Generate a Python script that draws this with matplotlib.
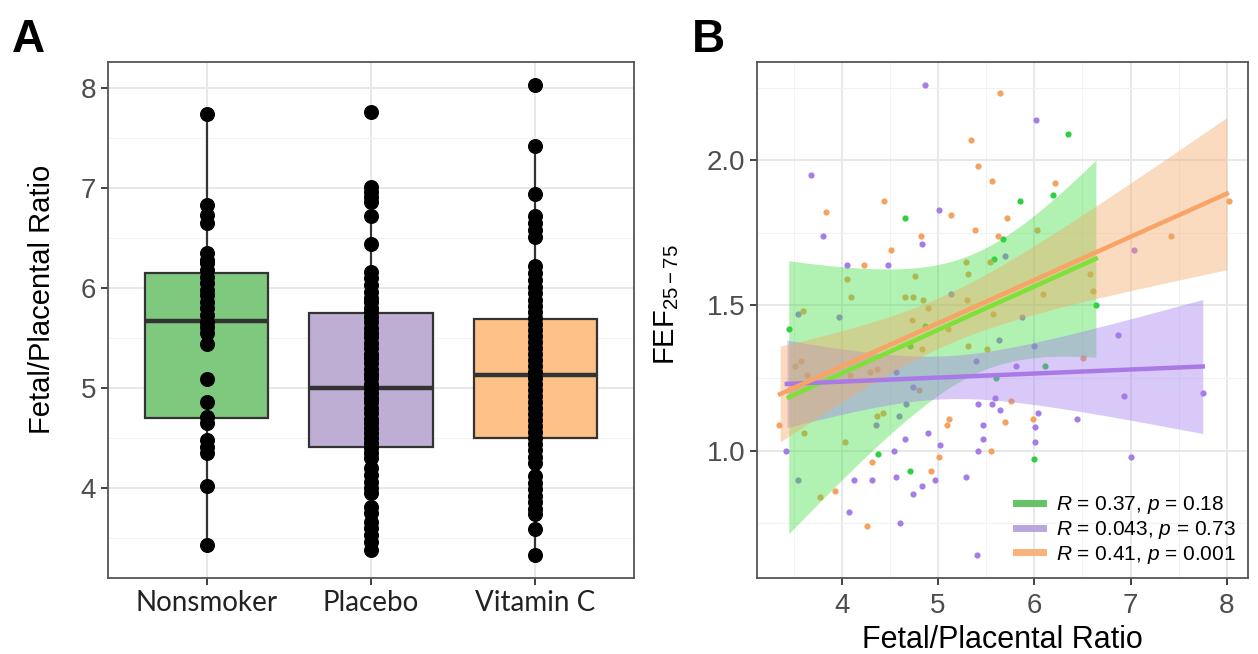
import numpy as np
import matplotlib
matplotlib.use("Agg")
import matplotlib.pyplot as plt
from matplotlib.lines import Line2D

plt.rcParams['font.family'] = ['Liberation Sans', 'DejaVu Sans']
plt.rcParams['mathtext.fontset'] = 'custom'
plt.rcParams['mathtext.rm'] = 'Liberation Sans'
plt.rcParams['mathtext.it'] = 'Liberation Sans:italic'

# ---- panel A data ----
groups = ['Nonsmoker', 'Placebo', 'Vitamin C']
box_fill = ['#7fc97f', '#beaed4', '#fdc086']
# box stats: q1, median, q3, lower whisker, upper whisker
box_q1 = [4.70, 4.41, 4.50]
box_med = [5.67, 5.00, 5.13]
box_q3 = [6.15, 5.75, 5.69]
box_lo = [3.43, 3.38, 3.33]
box_hi = [7.74, 7.01, 7.42]

nonsmoker = [7.74, 6.83, 6.73, 6.65, 6.35, 6.28, 6.25, 6.18, 6.11, 6.05, 5.98,
             5.93, 5.86, 5.80, 5.73, 5.66, 5.61, 5.55, 5.44, 5.09, 4.86, 4.71,
             4.65, 4.48, 4.41, 4.35, 4.02, 3.43]
placebo = [7.76, 7.01, 6.96, 6.91, 6.86, 6.72, 6.44, 6.16, 6.10, 6.03, 5.96,
           5.90, 5.86, 5.80, 5.76, 5.71, 5.66, 5.60, 5.55, 5.51, 5.45, 5.40,
           5.34, 5.30, 5.25, 5.19, 5.14, 5.10, 5.04, 5.00, 4.95, 4.90, 4.86,
           4.80, 4.75, 4.69, 4.65, 4.60, 4.55, 4.50, 4.45, 4.40, 4.35, 4.30,
           4.20, 4.13, 4.06, 4.00, 3.95, 3.81, 3.75, 3.66, 3.60, 3.53, 3.46,
           3.38]
vitamin_c = [8.03, 7.42, 6.94, 6.72, 6.65, 6.58, 6.51, 6.22, 6.15, 6.08, 6.01,
             5.95, 5.88, 5.82, 5.76, 5.70, 5.64, 5.58, 5.52, 5.46, 5.40, 5.34,
             5.28, 5.22, 5.16, 5.10, 5.04, 4.98, 4.92, 4.86, 4.80, 4.74, 4.68,
             4.62, 4.56, 4.50, 4.44, 4.38, 4.31, 4.25, 4.12, 4.05, 3.99, 3.92,
             3.86, 3.79, 3.74, 3.59, 3.33]
points_a = [nonsmoker, placebo, vitamin_c]

# ---- panel B data ----
green_x = [6.35, 6.19, 5.85, 4.66, 5.68, 5.58, 3.45, 6.64, 6.11, 5.60, 4.38,
           4.71, 6.00, 4.71, 4.86]
green_y = [2.09, 1.88, 1.86, 1.80, 1.73, 1.66, 1.42, 1.50, 1.29, 1.25, 0.99,
           0.93, 0.97, 1.36, 1.43]

purple_x = [4.87, 6.02, 3.68, 3.81, 5.01, 4.83, 4.06, 4.48, 6.87, 6.00, 5.39,
            5.81, 4.56, 4.74, 6.93, 7.75, 5.42, 5.56, 5.59, 5.64, 6.04, 6.44,
            5.47, 6.01, 5.47, 6.01, 4.90, 4.66, 5.02, 4.54, 5.42, 3.42, 7.00,
            4.13, 4.31, 4.56, 4.83, 4.97, 5.29, 4.74, 4.08, 4.61, 5.40, 7.04,
            5.70, 3.55, 3.97, 5.13, 5.87, 5.63, 4.36, 4.59, 4.67, 3.55]
purple_y = [2.26, 2.14, 1.95, 1.74, 1.83, 1.71, 1.64, 1.64, 1.40, 1.36, 1.31,
            1.29, 1.27, 1.22, 1.19, 1.20, 1.16, 1.16, 1.18, 1.14, 1.13, 1.11,
            1.09, 1.08, 1.04, 1.03, 1.06, 1.04, 1.02, 1.00, 1.00, 1.00, 0.98,
            0.90, 0.90, 0.91, 0.88, 0.90, 0.91, 0.85, 0.79, 0.75, 0.64, 1.69,
            1.67, 1.47, 1.46, 1.54, 1.46, 1.38, 1.09, 1.12, 1.16, 0.90]

orange_x = [5.64, 5.34, 5.42, 5.56, 6.22, 4.44, 3.84, 5.13, 5.72, 5.38, 4.82,
            5.62, 6.03, 8.02, 7.42, 4.51, 4.23, 5.29, 5.54, 4.05, 5.31, 4.76,
            6.58, 6.61, 4.10, 4.66, 4.74, 4.84, 5.30, 6.09, 3.60, 4.90, 4.73,
            5.57, 5.10, 5.31, 5.51, 4.83, 6.51, 3.51, 3.58, 3.64, 4.09, 4.29,
            4.37, 4.80, 5.76, 3.35, 4.37, 4.43, 5.11, 5.09, 5.70, 5.99, 3.61,
            4.03, 5.55, 5.01, 4.31, 4.93, 3.77, 3.93, 4.26]
orange_y = [2.23, 2.07, 1.98, 1.93, 1.92, 1.86, 1.82, 1.81, 1.80, 1.76, 1.74,
            1.74, 1.76, 1.86, 1.74, 1.69, 1.64, 1.65, 1.65, 1.59, 1.61, 1.60,
            1.61, 1.55, 1.53, 1.53, 1.53, 1.52, 1.52, 1.54, 1.48, 1.49, 1.45,
            1.47, 1.42, 1.36, 1.35, 1.35, 1.32, 1.29, 1.31, 1.26, 1.26, 1.27,
            1.28, 1.21, 1.17, 1.09, 1.12, 1.13, 1.11, 1.09, 1.10, 1.11, 1.06,
            1.03, 1.00, 0.98, 0.96, 0.93, 0.84, 0.86, 0.74]

# fitted lines (start/end) and CI band shape
fit_x0 = [3.45, 3.43, 3.36]
fit_x1 = [6.64, 7.75, 8.00]
fit_y0 = [1.184, 1.230, 1.195]
fit_y1 = [1.661, 1.290, 1.885]
band_xm = [5.40, 5.05, 5.04]
band_h0 = [0.208, 0.074, 0.087]
band_k = [0.216, 0.081, 0.0835]

legend_labels = [r'$\it{R}$ = 0.37, $\it{p}$ = 0.18',
                 r'$\it{R}$ = 0.043, $\it{p}$ = 0.73',
                 r'$\it{R}$ = 0.41, $\it{p}$ = 0.001']
point_col = ['#2fcf42', '#a67ce8', '#f6a25e']
line_col = ['#7fe03a', '#a97ae6', '#f7a466']
band_col = ['#3ddc3d', '#a17af0', '#f7a762']
key_col = ['#66c266', '#b9a6dd', '#f7b37b']

grid_major = '#e8e8e8'
grid_minor = '#f2f2f2'
frame_col = '#555555'
tick_col = '#4d4d4d'

fig = plt.figure(figsize=(12.58, 6.54), dpi=100)
axA = fig.add_axes([108/1258, 76/654, 526/1258, 516/654])
axB = fig.add_axes([757/1258, 76/654, 491/1258, 516/654])

# ---- panel A ----
pos = np.arange(1, len(groups) + 1)
stats = []
for i in range(len(groups)):
    stats.append(dict(med=box_med[i], q1=box_q1[i], q3=box_q3[i],
                      whislo=box_lo[i], whishi=box_hi[i], fliers=[]))
bp = axA.bxp(stats, positions=pos, widths=0.75, patch_artist=True,
             showfliers=False, showcaps=False,
             boxprops=dict(edgecolor='#333333', linewidth=1.6),
             medianprops=dict(color='#333333', linewidth=3.2),
             whiskerprops=dict(color='#333333', linewidth=1.6))
for patch, c in zip(bp['boxes'], box_fill):
    patch.set_facecolor(c)
    patch.set_zorder(2)
for i, vals in enumerate(points_a):
    axA.plot([pos[i]] * len(vals), vals, 'o', color='black', ms=9.8, zorder=4)

axA.set_xlim(0.4, 3.6)
axA.set_ylim(3.10, 8.26)
axA.set_yticks([4, 5, 6, 7, 8])
axA.set_yticks([3.5, 4.5, 5.5, 6.5, 7.5], minor=True)
axA.set_xticks(pos)
axA.set_xticklabels(groups, fontfamily='Lato', fontsize=20, color='#222222')
axA.set_ylabel('Fetal/Placental Ratio', fontsize=21, color='black')
axA.yaxis.set_label_coords(-0.098, 0.54)

# ---- panel B ----
xs_all = [green_x, purple_x, orange_x]
ys_all = [green_y, purple_y, orange_y]
for i in range(3):
    axB.scatter(xs_all[i], ys_all[i], s=20, color=point_col[i], zorder=3,
                linewidths=0)
for i in range(3):
    xx = np.linspace(fit_x0[i], fit_x1[i], 100)
    yy = fit_y0[i] + (fit_y1[i] - fit_y0[i]) * (xx - fit_x0[i]) / (fit_x1[i] - fit_x0[i])
    half = np.sqrt(band_h0[i] ** 2 + band_k[i] ** 2 * (xx - band_xm[i]) ** 2)
    axB.fill_between(xx, yy - half, yy + half, color=band_col[i], alpha=0.4,
                     linewidth=0, zorder=4)
    axB.plot(xx, yy, color=line_col[i], lw=3.2, zorder=5)

axB.set_xlim(3.12, 8.22)
axB.set_ylim(0.562, 2.338)
axB.set_xticks([4, 5, 6, 7, 8])
axB.set_xticks([3.5, 4.5, 5.5, 6.5, 7.5], minor=True)
axB.set_yticks([1.0, 1.5, 2.0])
axB.set_yticks([0.75, 1.25, 1.75, 2.25], minor=True)
axB.set_yticklabels(['1.0', '1.5', '2.0'])
axB.set_xlabel('Fetal/Placental Ratio', fontsize=22)
axB.xaxis.set_label_coords(0.5, -0.092)
axB.set_ylabel(r'FEF$_{\mathregular{25-75}}$', fontsize=21)
axB.yaxis.set_label_coords(-0.155, 0.53)

handles = [Line2D([0], [0], color=c, lw=5) for c in key_col]
axB.legend(handles, legend_labels, loc='lower right', frameon=False,
           fontsize=15, handlelength=1.3, labelspacing=0.12,
           borderaxespad=0.2, handletextpad=0.6)

for ax in (axA, axB):
    ax.set_axisbelow(True)
    ax.grid(which='major', color=grid_major, lw=1.4, zorder=0)
    ax.grid(which='minor', color=grid_minor, lw=0.8, zorder=0)
    for s in ax.spines.values():
        s.set_color(frame_col)
        s.set_linewidth(1.3)
    ax.tick_params(which='major', length=5, width=1.3, color='#333333',
                   labelsize=20, labelcolor=tick_col)
    ax.tick_params(which='minor', length=0)
axA.tick_params(axis='x', labelcolor='#222222')
axB.tick_params(axis='x', pad=6)

fig.text(12/1258, 1 - 18/654, 'A', fontsize=33, fontweight='bold', va='top')
fig.text(692/1258, 1 - 18/654, 'B', fontsize=33, fontweight='bold', va='top')

fig.savefig('out.png', dpi=100, facecolor='white')
